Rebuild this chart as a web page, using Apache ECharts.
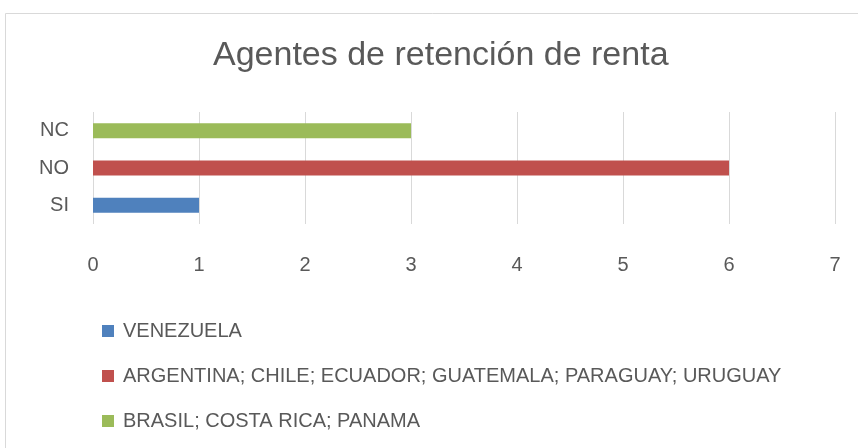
<!DOCTYPE html>
<html>
<head>
<meta charset="utf-8">
<script src="https://cdn.jsdelivr.net/npm/echarts@6/dist/echarts.min.js"></script>
<style>
  html, body { margin: 0; padding: 0; background: #fff; }
  #chart { width: 858px; height: 448px; }
</style>
</head>
<body>
<div id="chart"></div>
<script>
const categories = ['SI', 'NO', 'NC']
const seriesNames = [
  'VENEZUELA',
  'ARGENTINA; CHILE; ECUADOR; GUATEMALA; PARAGUAY; URUGUAY',
  'BRASIL; COSTA RICA; PANAMA'
]
const venezuela = [1, '-', '-']
const argentinaGrupo = ['-', 6, '-']
const brasilGrupo = ['-', '-', 3]
const xTicks = [0, 1, 2, 3, 4, 5, 6, 7]

const font = '"Liberation Sans Narrow", "Liberation Sans", Arial, sans-serif'
const textColor = '#595959'
const colors = ['#4F81BD', '#C0504D', '#9BBB59']

const myChart = echarts.init(document.getElementById('chart'))

const mkSeries = (name, data, i) => ({
  name: name,
  type: 'bar',
  stack: 'total',
  barWidth: 15,
  itemStyle: { color: colors[i] },
  data: data
})

const option = {
  animation: false,
  textStyle: { fontFamily: font },
  graphic: [
    {
      type: 'rect',
      shape: { x: 5.5, y: 13.5, width: 870, height: 450 },
      style: { fill: 'none', stroke: '#d9d9d9', lineWidth: 1 },
      silent: true
    }
  ],
  title: {
    text: 'Agentes de retención de renta',
    left: 208,
    top: 34,
    textStyle: {
      fontFamily: font,
      fontSize: 34,
      fontWeight: 'normal',
      color: textColor
    }
  },
  legend: {
    orient: 'vertical',
    left: 97,
    top: 316,
    itemWidth: 12,
    itemHeight: 12,
    itemGap: 25,
    icon: 'rect',
    data: seriesNames,
    textStyle: { fontFamily: font, fontSize: 20, color: textColor, padding: [0, 0, 0, 4] }
  },
  grid: {
    left: 93,
    right: 23,
    top: 112,
    height: 112,
    containLabel: false
  },
  xAxis: {
    type: 'value',
    min: 0,
    max: 7,
    interval: 1,
    axisLine: { show: false },
    axisTick: { show: false },
    splitLine: { lineStyle: { color: '#d9d9d9' } },
    axisLabel: {
      margin: 31,
      fontFamily: font,
      fontSize: 20,
      color: textColor,
      formatter: v => xTicks.includes(v) ? String(v) : ''
    }
  },
  yAxis: {
    type: 'category',
    data: categories,
    axisLine: { show: false },
    axisTick: { show: false },
    axisLabel: {
      margin: 24,
      fontFamily: font,
      fontSize: 20,
      color: textColor
    }
  },
  series: [
    mkSeries(seriesNames[0], venezuela, 0),
    mkSeries(seriesNames[1], argentinaGrupo, 1),
    mkSeries(seriesNames[2], brasilGrupo, 2)
  ]
}

myChart.setOption(option)
window.onresize = function () {
  myChart.resize()
}
</script>
</body>
</html>
